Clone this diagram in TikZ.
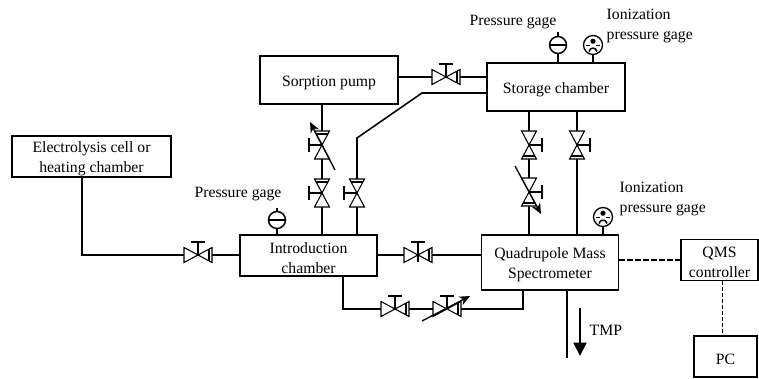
\documentclass[tikz,border=0pt]{standalone}
\usepackage{fontspec}
\setmainfont{Liberation Serif}
\usetikzlibrary{arrows.meta}

\newcommand{\lowered}{\rule{0pt}{12pt}}

\tikzset{
  box/.style={draw,line width=1.1pt,inner ysep=0pt,align=center,font=\fontsize{11.8}{15}\selectfont},
  label/.style={align=left,font=\fontsize{11.8}{15}\selectfont},
  pipe/.style={line width=1.15pt},
  valveline/.style={line width=0.8pt,fill=white},
  setarrow/.style={line width=1pt,-{Stealth[length=8pt,width=7pt]}},
  % inside a pic y points up: handle up, seat on the right
  pics/valve/.style={code={
    \draw [valveline] (-14,-7.5) -- (0,0) -- (-14,7.5) -- cycle;
    \draw [valveline] (14,-7.5) -- (0,0) -- (14,7.5) -- cycle;
    \draw [line width=0.8pt] (11,-5.8) -- (11,5.8);
    \draw [line width=1pt] (0,0) -- (0,13);
    \draw [line width=1pt] (-7,13) -- (7,13);
  }},
  pics/gage/.style={code={
    \draw [line width=1.1pt,fill=white] (0,0) circle (8.5);
    \draw [line width=1.1pt] (-8.5,0) -- (8.5,0);
  }},
  pics/iongage/.style={code={
    \draw [line width=1pt,fill=white] (0,0) circle (9.5);
    \fill (0,3.8) circle (2.6);
    \draw [line width=0.7pt] (-7,-0.5) -- (-3,-0.5) (3,-0.5) -- (7,-0.5);
    \draw [line width=1.1pt] (-4,-6.5) .. controls (-3,-2) and (3,-2) .. (4,-6.5);
  }},
}

\begin{document}
\begin{tikzpicture}[x=0.75pt,y=0.75pt,yscale=-1,xscale=1]

\useasboundingbox (0,0) rectangle (759,378);

% chambers
\node [box,minimum width=103.5pt,minimum height=36pt] (pump) at (329,80) {\lowered Sorption pump};
\node [box,minimum width=103.5pt,minimum height=36pt] (storage) at (556,87) {\lowered Storage chamber};
\node [box,minimum width=119pt,minimum height=31pt] (cell) at (91.5,156.5) {\lowered Electrolysis cell or\\heating chamber};
\node [box,minimum width=103pt,minimum height=31pt] (intro) at (308.5,255.5) {\lowered Introduction\\chamber};
\node [box,minimum width=103pt,minimum height=41pt] (qms) at (550,262.5) {\lowered Quadrupole Mass\\Spectrometer};
\node [box,minimum width=58pt,minimum height=31pt] (ctrl) at (719.5,260) {\lowered QMS\\controller};
\node [box,minimum width=47pt,minimum height=31pt] (pc) at (725.5,356.5) {\lowered PC};

% valve positions
\coordinate (vpump) at (446,77);
\coordinate (vsetup) at (322,145);
\coordinate (vlow) at (322,193);
\coordinate (vbypass) at (357,193);
\coordinate (vsto) at (529,145);
\coordinate (vset) at (529,192);
\coordinate (vmain) at (577,145);
\coordinate (vcell) at (198,255);
\coordinate (vqms) at (418,255);
\coordinate (vfine) at (395,309);
\coordinate (vadj) at (447,309);

% bends and free ends
\coordinate (cellcorner) at (82,255);
\coordinate (bendA) at (357,138);
\coordinate (bendB) at (422,93);
\coordinate (lowA) at (343,309);
\coordinate (lowB) at (523,309);
\coordinate (tmpend) at (567,358);

% gages
\coordinate (gageS) at (558,45);
\coordinate (gageI) at (277,220);
\coordinate (ionS) at (593,45);
\coordinate (ionQ) at (603,217);

% pipes
\draw [pipe] (pump.east |- vpump) -- (storage.west |- vpump);
\draw [pipe] (vsetup |- pump.south) -- (vsetup |- intro.north);
\draw [pipe] (vbypass |- intro.north) -- (bendA) -- (bendB) -- (storage.west |- bendB);
\draw [pipe] (vsto |- storage.south) -- (vsto |- qms.north);
\draw [pipe] (vmain |- storage.south) -- (vmain |- qms.north);
\draw [pipe] (cellcorner |- cell.south) -- (cellcorner) -- (intro.west |- cellcorner);
\draw [pipe] (intro.east |- vqms) -- (qms.west |- vqms);
\draw [pipe] (lowA |- intro.south) -- (lowA) -- (lowB) -- (lowB |- qms.south);
\draw [pipe] (tmpend |- qms.south) -- (tmpend);
\draw [pipe] (gageS |- storage.north) -- (gageS) -- ++(0,-13);
\draw [pipe] (ionS |- storage.north) -- (ionS);
\draw [pipe] (gageI |- intro.north) -- (gageI) -- ++(0,-12);
\draw [pipe] (ionQ |- qms.north) -- (ionQ);

% signal lines
\draw [line width=1pt,dash pattern=on 4pt off 2pt] (qms.east |- ctrl) -- (ctrl.west);
\draw [line width=0.6pt,dash pattern=on 3pt off 1.5pt] (ctrl.south -| 722,0) -- (pc.north -| 722,0);

% valves
\pic at (vpump) {valve};
\pic at (vcell) {valve};
\pic at (vfine) {valve};
\pic at (vadj) {valve};
\pic at (vqms) {valve};
\draw [line width=2pt] (vqms) ++(0,-13) -- ++(0,20);
\pic [rotate=90] at (vsetup) {valve};
\pic [rotate=90] at (vlow) {valve};
\pic [rotate=90] at (vbypass) {valve};
\pic [rotate=-90] at (vsto) {valve};
\pic [rotate=-90] at (vset) {valve};
\pic [rotate=-90] at (vmain) {valve};

% adjustable valve arrows
\draw [setarrow] (335,170) -- (310,122);
\draw [setarrow] (515,166) -- (541,214);
\draw [setarrow] (422,321) -- (470,296);

% gage symbols
\pic at (gageS) {gage};
\pic at (gageI) {gage};
\pic at (ionS) {iongage};
\pic at (ionQ) {iongage};

% outlet to the turbo pump
\coordinate (tmpA) at (580,308);
\coordinate (tmpB) at (580,356);
\draw [line width=2.2pt,-{Triangle[length=10pt,width=9.5pt]}] (tmpA) -- (tmpB);

% texts
\node [label,anchor=west] (tmptext) at (585,330) {TMP};
\node [label] (gagetextS) at (513,22) {Pressure gage};
\node [label] (gagetextI) at (238,194) {Pressure gage};
\node [label,anchor=west] (iontextS) at (602,25.5) {Ionization\\pressure gage};
\node [label,anchor=west] (iontextQ) at (615,199) {Ionization\\pressure gage};

\end{tikzpicture}
\end{document}
